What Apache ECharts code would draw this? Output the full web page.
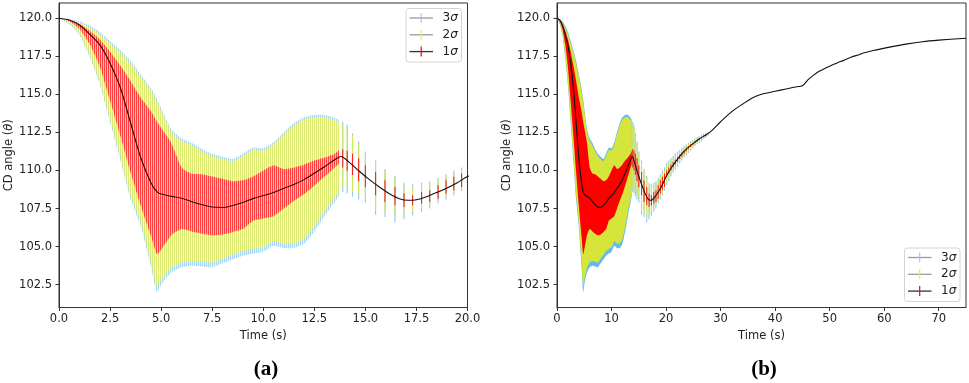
<!DOCTYPE html>
<html>
<head>
<meta charset="utf-8">
<script src="https://cdn.jsdelivr.net/npm/echarts@6/dist/echarts.min.js"></script>
<style>
  html, body { margin: 0; padding: 0; background: #fff; }
  #chart { width: 969px; height: 383px; }
</style>
</head>
<body>
<div id="chart"></div>
<script>
// dense part of the run: error bars drawn so close together they read as bands
const bandTime = [0, 0.5, 1, 1.5, 2, 2.5, 3, 3.5, 4, 4.5, 4.8, 5, 5.5, 6, 6.5, 7, 7.5, 8, 8.5, 9, 9.5, 10, 10.5, 11, 11.5, 12, 12.5, 13, 13.5, 13.7];
const band3Hi = [120.0, 119.95, 119.8, 119.5, 119.1, 118.5, 117.9, 117.2, 116.3, 115.4, 114.7, 114.1, 112.7, 112.1, 111.8, 111.4, 111.1, 110.9, 110.75, 111.1, 111.5, 111.45, 111.85, 112.5, 113.1, 113.5, 113.65, 113.65, 113.45, 113.3];
const band2Hi = [120.0, 119.9, 119.7, 119.38, 118.95, 118.35, 117.75, 117.05, 116.15, 115.25, 114.55, 113.95, 112.55, 111.95, 111.65, 111.25, 110.95, 110.75, 110.6, 110.95, 111.35, 111.3, 111.7, 112.35, 112.95, 113.35, 113.5, 113.5, 113.3, 113.15];
const band1Hi = [120.0, 119.88, 119.62, 119.18, 118.6, 117.8, 116.9, 115.9, 114.8, 113.9, 113.2, 112.8, 111.8, 110.2, 109.8, 109.75, 109.6, 109.45, 109.3, 109.35, 109.6, 110.0, 110.35, 110.1, 110.2, 110.4, 110.65, 110.85, 111.1, 111.3];
const band1Lo = [120.0, 119.8, 119.3, 118.3, 116.8, 114.6, 112.3, 109.9, 107.7, 105.7, 104.5, 104.8, 105.75, 106.15, 106.0, 105.85, 105.75, 105.8, 105.95, 106.15, 106.7, 106.85, 107.0, 107.5, 108.0, 108.45, 109.0, 109.6, 110.2, 110.45];
const band2Lo = [120.0, 119.7, 119.0, 117.6, 115.8, 113.4, 110.9, 108.4, 106.6, 104.0, 102.35, 102.8, 103.6, 103.95, 104.05, 104.0, 103.95, 104.2, 104.45, 104.7, 104.85, 104.95, 105.35, 105.2, 105.2, 105.5, 106.3, 107.3, 108.2, 108.6];
const band3Lo = [120.0, 119.6, 118.9, 117.45, 115.65, 113.2, 110.7, 108.15, 106.35, 103.7, 102.0, 102.5, 103.3, 103.65, 103.75, 103.7, 103.65, 103.9, 104.15, 104.4, 104.55, 104.65, 105.05, 104.9, 104.9, 105.2, 106.0, 107.0, 107.95, 108.35];

// later part: separate error bars
const barTime = [13.89, 14.11, 14.37, 14.67, 15.0, 15.5, 15.96, 16.45, 16.89, 17.31, 17.75, 18.15, 18.56, 18.95, 19.33, 19.71, 20.1, 20.5, 20.9, 21.3, 21.7, 22.1, 22.5, 22.9, 23.3, 23.7, 24.1, 24.5, 24.9, 25.3, 25.7, 26.1, 26.5, 26.9, 27.3, 27.7];
const bar3Hi = [113.2, 113.0, 112.45, 111.9, 111.25, 110.65, 110.1, 109.65, 109.2, 109.1, 109.2, 109.3, 109.5, 109.75, 110.0, 110.2, 110.5, 110.65, 110.8, 110.95, 111.1, 111.25, 111.35, 111.5, 111.6, 111.72, 111.82, 111.92, 112.0, 112.1, 112.18, 112.27, 112.35, 112.42, 112.5, 112.55];
const bar2Hi = [113.0, 112.8, 112.3, 111.75, 111.1, 110.5, 109.97, 109.47, 109.03, 108.92, 109.03, 109.14, 109.36, 109.62, 109.84, 110.0, 110.35, 110.5, 110.65, 110.8, 110.95, 111.1, 111.22, 111.35, 111.48, 111.6, 111.72, 111.82, 111.92, 112.02, 112.1, 112.2, 112.28, 112.36, 112.45, 112.5];
const bar1Hi = [111.4, 111.3, 111.1, 110.8, 110.35, 109.9, 109.36, 108.92, 108.48, 108.37, 108.59, 108.7, 109.03, 109.36, 109.58, 109.8, 110.0, 110.2, 110.38, 110.55, 110.7, 110.85, 111.0, 111.15, 111.28, 111.42, 111.56, 111.7, 111.8, 111.9, 112.0, 112.1, 112.2, 112.28, 112.38, 112.46];
const bar1Lo = [110.2, 110.0, 109.7, 109.3, 108.9, 108.37, 107.93, 107.71, 107.6, 107.71, 107.82, 107.93, 108.15, 108.48, 108.7, 108.92, 109.55, 109.8, 110.02, 110.22, 110.4, 110.55, 110.75, 110.92, 111.1, 111.25, 111.4, 111.55, 111.68, 111.8, 111.9, 112.0, 112.1, 112.2, 112.3, 112.4];
const bar2Lo = [108.9, 108.8, 108.6, 108.45, 108.2, 107.4, 107.28, 107.06, 107.06, 107.28, 107.5, 107.71, 108.04, 108.3, 108.53, 108.81, 109.2, 109.45, 109.72, 109.95, 110.15, 110.35, 110.55, 110.75, 110.92, 111.1, 111.25, 111.4, 111.55, 111.68, 111.8, 111.9, 112.0, 112.12, 112.22, 112.34];
const bar3Lo = [108.6, 108.5, 108.3, 108.1, 107.9, 107.1, 106.95, 106.6, 106.8, 107.05, 107.3, 107.5, 107.85, 108.1, 108.35, 108.65, 109.05, 109.3, 109.6, 109.85, 110.05, 110.25, 110.45, 110.65, 110.85, 111.0, 111.15, 111.3, 111.45, 111.6, 111.72, 111.82, 111.92, 112.05, 112.15, 112.28];

// nominal trajectory
const meanTime = [0, 0.5, 1, 1.5, 2, 2.5, 3, 3.5, 4, 4.5, 4.8, 5, 5.5, 6, 6.5, 7, 7.5, 8, 8.5, 9, 9.5, 10, 10.5, 11, 11.5, 12, 12.5, 13, 13.5, 13.8, 14.2, 14.7, 15.2, 15.7, 16.2, 16.7, 17.1, 17.5, 18, 18.5, 19, 19.5, 20, 21, 22, 23, 24, 25, 26, 27, 28, 30, 32, 34, 36, 38, 40, 42, 44, 45, 46, 47, 48, 50, 52, 54, 55.5, 56, 58, 61, 64, 67, 70, 75];
const meanAngle = [120.0, 119.88, 119.55, 118.95, 118.25, 117.05, 115.45, 113.15, 110.85, 109.2, 108.6, 108.45, 108.3, 108.18, 107.95, 107.75, 107.6, 107.57, 107.7, 107.9, 108.15, 108.35, 108.55, 108.82, 109.08, 109.4, 109.82, 110.25, 110.7, 110.92, 110.55, 109.95, 109.4, 108.9, 108.45, 108.12, 108.04, 108.08, 108.28, 108.55, 108.85, 109.2, 109.6, 110.2, 110.7, 111.15, 111.5, 111.78, 112.05, 112.28, 112.5, 113.2, 113.85, 114.35, 114.8, 115.05, 115.2, 115.35, 115.5, 115.56, 115.95, 116.25, 116.5, 116.85, 117.15, 117.45, 117.62, 117.7, 117.88, 118.1, 118.3, 118.46, 118.56, 118.68];

const yTicks = [102.5, 105, 107.5, 110, 112.5, 115, 117.5, 120];
const xTicksA = [0, 2.5, 5, 7.5, 10, 12.5, 15, 17.5, 20];
const xTicksB = [0, 10, 20, 30, 40, 50, 60, 70];
const legendNames = ['3', '2', '1'];

const FONT = 'DejaVu Sans';
const INK = '#222';

function stripes(c1, c2) {
  const cv = document.createElement('canvas');
  cv.width = 2; cv.height = 4;
  const ctx = cv.getContext('2d');
  ctx.fillStyle = c1; ctx.fillRect(0, 0, 1, 4);
  ctx.fillStyle = c2; ctx.fillRect(1, 0, 1, 4);
  return { image: cv, repeat: 'repeat' };
}

const fills = [
  { s3: stripes('#a6d5f5', '#e6f3fc'), s2: stripes('#dbe872', '#f5f9dc'), s1: stripes('#ff4040', '#ffb8b8') },
  { s3: '#66b8f0', s2: '#d6e53a', s1: '#ff0000' }
];
const barColors = { s3: '#8cc8f0', s2: '#d4e650', s1: '#ff2020' };

// one polygon per sigma level, built from every [t, lo, hi] item of the series
function band(gi, lo, hi, fill) {
  return {
    type: 'custom', xAxisIndex: gi, yAxisIndex: gi, silent: true, z: 2,
    data: bandTime.map((t, i) => [t, lo[i], hi[i]]),
    encode: { x: 0, y: [1, 2] },
    renderItem(params, api) {
      if (params.dataIndexInside !== 0) return null;
      const n = params.dataInsideLength;
      const top = [], bottom = [];
      for (let i = 0; i < n; i++) {
        const t = api.value(0, i);
        top.push(api.coord([t, api.value(2, i)]));
        bottom.push(api.coord([t, api.value(1, i)]));
      }
      return {
        type: 'polygon',
        shape: { points: top.concat(bottom.reverse()), smooth: 0.2 },
        style: { fill: fill, stroke: null }
      };
    }
  };
}

function bars(gi, lo, hi, color) {
  return {
    type: 'custom', xAxisIndex: gi, yAxisIndex: gi, silent: true, z: 3,
    data: barTime.map((t, i) => [t, lo[i], hi[i]]),
    encode: { x: 0, y: [1, 2] },
    renderItem(params, api) {
      const a = api.coord([api.value(0), api.value(1)]);
      const b = api.coord([api.value(0), api.value(2)]);
      const cs = params.coordSys;
      if (a[0] > cs.x + cs.width + 0.5) return null;
      return {
        type: 'line',
        shape: { x1: a[0], y1: a[1], x2: b[0], y2: b[1] },
        style: { stroke: color, lineWidth: 1.1 }
      };
    }
  };
}

function panelSeries(gi) {
  const f = fills[gi];
  return [
    band(gi, band3Lo, band3Hi, f.s3),
    band(gi, band2Lo, band2Hi, f.s2),
    band(gi, band1Lo, band1Hi, f.s1),
    bars(gi, bar3Lo, bar3Hi, barColors.s3),
    bars(gi, bar2Lo, bar2Hi, barColors.s2),
    bars(gi, bar1Lo, bar1Hi, barColors.s1),
    {
      type: 'line', xAxisIndex: gi, yAxisIndex: gi, z: 5, silent: true,
      data: meanTime.map((t, i) => [t, meanAngle[i]]),
      symbol: 'none', smooth: 0.3,
      lineStyle: { color: '#111', width: 1.1 }
    }
  ];
}

function xAxis(gi, max, ticks, digits) {
  return {
    type: 'value', gridIndex: gi, min: 0, max: max,
    name: 'Time (s)', nameLocation: 'middle', nameGap: 21,
    nameTextStyle: { fontFamily: FONT, fontSize: 11.5, color: INK },
    axisLine: { show: true, lineStyle: { color: '#333', width: 1 } },
    axisTick: { show: true, length: 3.5, lineStyle: { color: '#333' }, customValues: ticks },
    axisLabel: {
      customValues: ticks, margin: 5.5,
      fontFamily: FONT, fontSize: 11.5, color: INK,
      formatter: v => v.toFixed(digits)
    },
    splitLine: { show: false }
  };
}

function yAxis(gi) {
  return {
    type: 'value', gridIndex: gi, min: 101.0, max: 121.0,
    name: 'CD angle ({i|θ})', nameLocation: 'middle', nameGap: 41,
    nameTextStyle: {
      fontFamily: FONT, fontSize: 11.5, color: INK,
      rich: { i: { fontFamily: FONT, fontSize: 11.5, fontStyle: 'italic', color: INK } }
    },
    axisLine: { show: true, lineStyle: { color: '#333', width: 1 } },
    axisTick: { show: true, length: 3.5, lineStyle: { color: '#333' }, customValues: yTicks },
    axisLabel: {
      customValues: yTicks, margin: 7,
      fontFamily: FONT, fontSize: 11.5, color: INK,
      formatter: v => v.toFixed(1)
    },
    splitLine: { show: false }
  };
}

function legendBox(x, y) {
  const lineColors = ['#9a9a9a', '#9a9a9a', '#333'];
  const tickColors = ['#8fd0f5', '#f2f020', '#ff0000'];
  const children = [{
    type: 'rect',
    shape: { x: 0, y: 0, width: 55.5, height: 53.5, r: 3 },
    style: { fill: 'rgba(255,255,255,0.85)', stroke: '#d4d4d4', lineWidth: 1 }
  }];
  legendNames.forEach((n, i) => {
    const cy = 9.5 + i * 16.8;
    children.push({ type: 'line', shape: { x1: 3.5, y1: cy, x2: 27, y2: cy }, style: { stroke: lineColors[i], lineWidth: 1.3 } });
    children.push({ type: 'line', shape: { x1: 15.2, y1: cy - 5, x2: 15.2, y2: cy + 5 }, style: { stroke: tickColors[i], lineWidth: 1.2 } });
    children.push({
      type: 'text', x: 36.5, y: cy,
      style: {
        text: n + '{s|σ}', fill: INK, font: '12px "DejaVu Sans"',
        align: 'left', verticalAlign: 'middle', textAlign: 'left', textVerticalAlign: 'middle',
        rich: { s: { fontStyle: 'italic', fontFamily: FONT, fontSize: 12, fill: INK } }
      }
    });
  });
  return { type: 'group', x: x, y: y, z: 10, children };
}

function caption(text, x) {
  return {
    type: 'text', x: x, y: 370,
    style: {
      text: text, fill: '#000', font: 'bold 21px "Liberation Serif"',
      align: 'center', verticalAlign: 'middle', textAlign: 'center', textVerticalAlign: 'middle'
    }
  };
}

const chart = echarts.init(document.getElementById('chart'), null, { renderer: 'canvas' });
chart.setOption({
  animation: false,
  backgroundColor: '#fff',
  grid: [
    { left: 59, right: 501.5, top: 3, bottom: 75.5, show: true, borderColor: '#333', borderWidth: 1, backgroundColor: 'transparent' },
    { left: 557, right: 3, top: 3, bottom: 75.5, show: true, borderColor: '#333', borderWidth: 1, backgroundColor: 'transparent' }
  ],
  xAxis: [xAxis(0, 20, xTicksA, 1), xAxis(1, 75, xTicksB, 0)],
  yAxis: [yAxis(0), yAxis(1)],
  series: panelSeries(0).concat(panelSeries(1)),
  graphic: [
    legendBox(406, 8.5),
    legendBox(904.5, 248),
    caption('(a)', 266),
    caption('(b)', 764)
  ]
});
</script>
</body>
</html>
